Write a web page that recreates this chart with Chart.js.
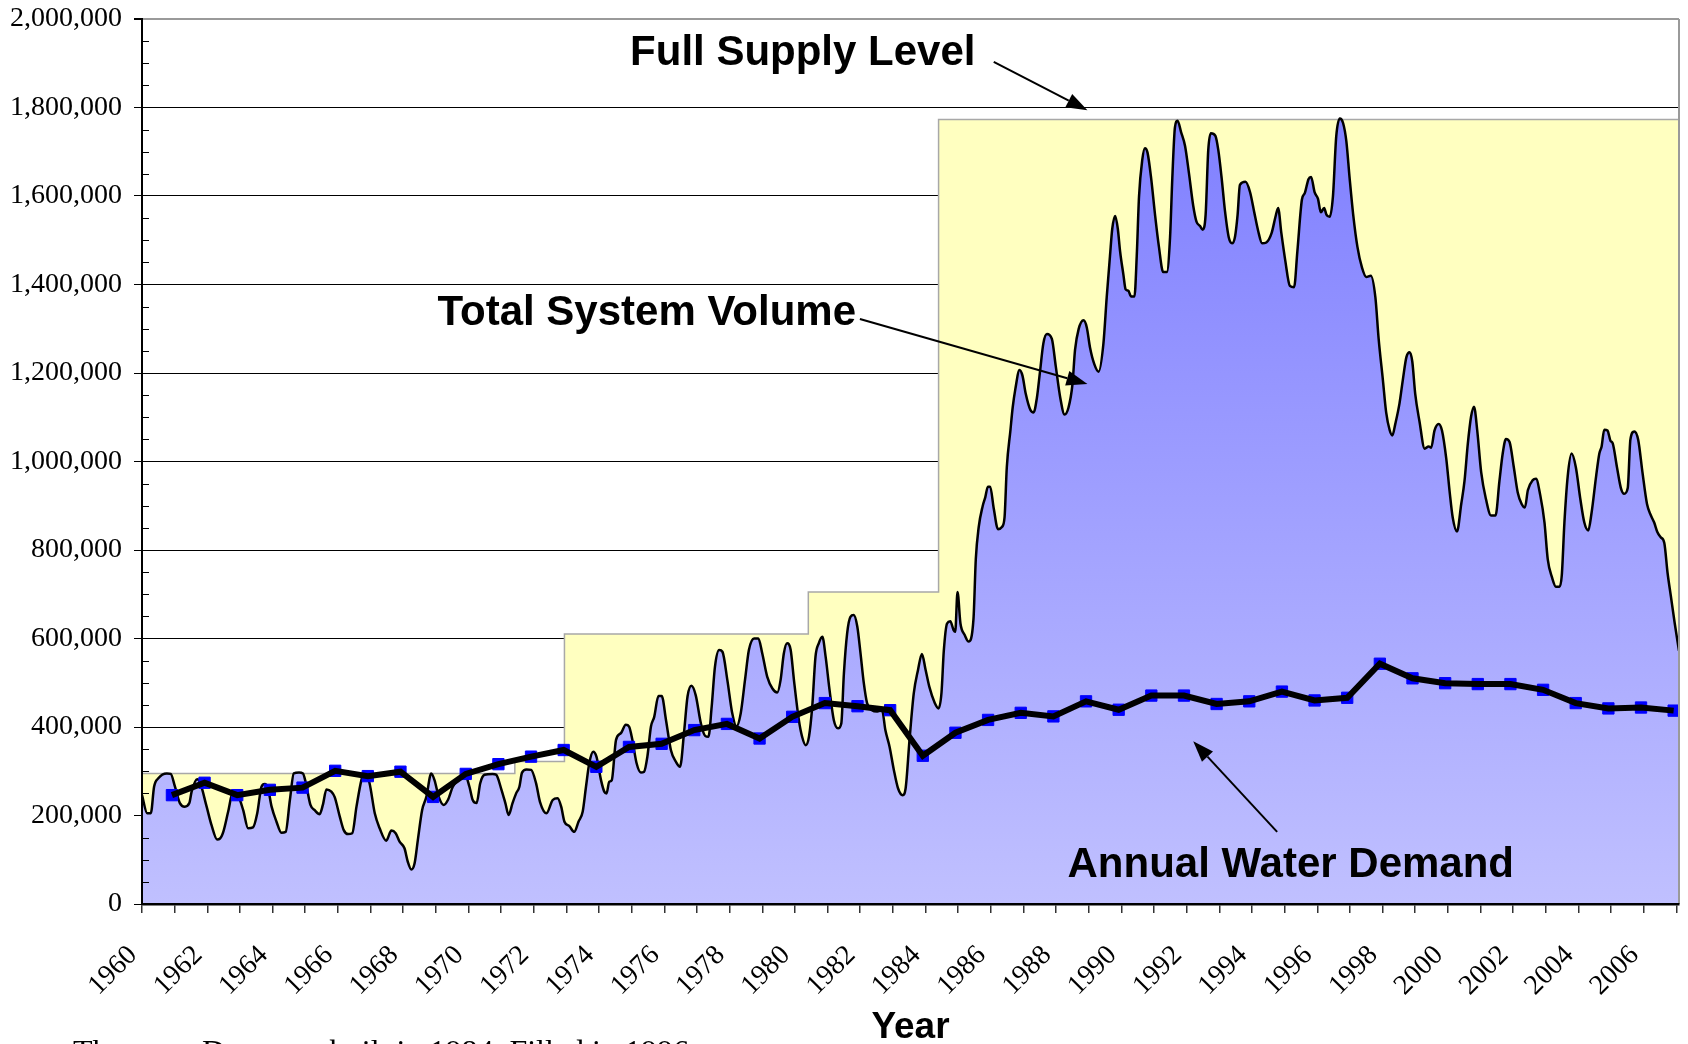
<!doctype html>
<html lang="en">
<head>
<meta charset="utf-8">
<title>Total System Volume and Annual Water Demand</title>
<script src="https://cdn.jsdelivr.net/npm/chart.js@4.4.1/dist/chart.umd.min.js"></script>
<style>
  html, body { margin: 0; padding: 0; background: #fff; overflow: hidden; }
  #wrap { position: relative; width: 1688px; height: 1044px; }
</style>
</head>
<body>
<div id="wrap"><canvas id="storageChart"></canvas></div>
<script>
// Full supply level: capacity steps (year the level starts, ML)
const fslYears  = [1960, 1971.42, 1972.94, 1980.41, 1984.40, 2007.08];
const fslLevels = [295000, 322000, 610000, 705000, 1773000, 1773000];

// Annual water demand (ML), one value per year
const demandYears = [1960, 1961, 1962, 1963, 1964, 1965, 1966, 1967, 1968, 1969,
  1970, 1971, 1972, 1973, 1974, 1975, 1976, 1977, 1978, 1979,
  1980, 1981, 1982, 1983, 1984, 1985, 1986, 1987, 1988, 1989,
  1990, 1991, 1992, 1993, 1994, 1995, 1996, 1997, 1998, 1999,
  2000, 2001, 2002, 2003, 2004, 2005, 2006];
const demandML = [246000, 274000, 246000, 258000, 263000, 301000, 289000, 299000, 242000, 294000,
  316000, 333000, 348000, 310000, 355000, 362000, 393000, 407000, 374000, 423000,
  454000, 447000, 438000, 335000, 387000, 416000, 432000, 424000, 458000, 439000,
  471000, 471000, 452000, 458000, 480000, 460000, 466000, 543000, 510000, 499000,
  497000, 497000, 484000, 454000, 442000, 444000, 437000];

// Total system volume (decimal year, thousand ML)
const tsvYears = [
  1960.00, 1960.16, 1960.27, 1960.37, 1960.50, 1960.76, 1960.88,
  1961.01, 1961.16, 1961.31, 1961.45, 1961.52, 1961.69, 1961.77, 1961.98,
  1962.13, 1962.30, 1962.39, 1962.49, 1962.64, 1962.79, 1962.94,
  1963.10, 1963.25, 1963.40, 1963.53, 1963.66, 1963.76, 1963.86, 1963.97,
  1964.12, 1964.27, 1964.40, 1964.53, 1964.65, 1964.81, 1964.93,
  1965.02, 1965.16, 1965.29, 1965.44, 1965.54, 1965.65, 1965.80, 1965.90,
  1966.06, 1966.18, 1966.31, 1966.44, 1966.57, 1966.72, 1966.82, 1966.97,
  1967.13, 1967.28, 1967.48, 1967.64, 1967.77, 1967.89,
  1968.04, 1968.14, 1968.25, 1968.35, 1968.45, 1968.58, 1968.71, 1968.86, 1968.96,
  1969.09, 1969.24, 1969.37, 1969.52, 1969.72, 1969.88,
  1970.03, 1970.13, 1970.25, 1970.36, 1970.49, 1970.74, 1970.85,
  1971.00, 1971.13, 1971.23, 1971.35, 1971.46, 1971.56, 1971.64, 1971.78, 1971.92,
  1972.07, 1972.19, 1972.39, 1972.58, 1972.73, 1972.84, 1972.94,
  1973.09, 1973.24, 1973.37, 1973.50, 1973.60, 1973.70, 1973.82, 1973.92,
  1974.06, 1974.16, 1974.23, 1974.31, 1974.39, 1974.52, 1974.67, 1974.82, 1974.92,
  1975.02, 1975.15, 1975.28, 1975.38, 1975.48, 1975.59, 1975.69, 1975.82, 1975.92,
  1976.05, 1976.20, 1976.35, 1976.48, 1976.61, 1976.71, 1976.83, 1976.96,
  1977.12, 1977.25, 1977.35, 1977.45, 1977.55, 1977.68, 1977.78, 1977.93,
  1978.08, 1978.21, 1978.34, 1978.47, 1978.59, 1978.75, 1978.88,
  1979.00, 1979.15, 1979.31, 1979.46, 1979.56, 1979.66, 1979.76, 1979.87, 1979.97,
  1980.12, 1980.22, 1980.33, 1980.43, 1980.53, 1980.63, 1980.73, 1980.84, 1980.94,
  1981.06, 1981.19, 1981.32, 1981.42, 1981.50, 1981.60, 1981.70, 1981.80, 1981.91,
  1982.01, 1982.11, 1982.21, 1982.36, 1982.52, 1982.67, 1982.77, 1982.90,
  1983.03, 1983.16, 1983.30, 1983.39, 1983.51, 1983.64, 1983.77, 1983.89,
  1984.00, 1984.12, 1984.28, 1984.40, 1984.49, 1984.56, 1984.66, 1984.76, 1984.86, 1984.91, 1984.98,
  1985.07, 1985.20, 1985.32, 1985.47, 1985.54, 1985.63, 1985.75, 1985.83, 1985.91, 1985.98,
  1986.09, 1986.22, 1986.34, 1986.42, 1986.49, 1986.60, 1986.67, 1986.75, 1986.88, 1986.97,
  1987.07, 1987.21, 1987.31, 1987.41, 1987.51, 1987.61, 1987.72, 1987.87, 1987.99,
  1988.13, 1988.26, 1988.38, 1988.50, 1988.58, 1988.69, 1988.84, 1988.94,
  1989.04, 1989.17, 1989.30, 1989.45, 1989.55, 1989.65, 1989.72, 1989.81, 1989.89, 1989.96,
  1990.06, 1990.13, 1990.21, 1990.30, 1990.40, 1990.47, 1990.54, 1990.64, 1990.72, 1990.80, 1990.91,
  1991.03, 1991.15, 1991.28, 1991.39, 1991.49, 1991.56, 1991.64, 1991.72, 1991.83, 1991.95,
  1992.07, 1992.20, 1992.30, 1992.41, 1992.49, 1992.58, 1992.66, 1992.74, 1992.88, 1992.97,
  1993.07, 1993.17, 1993.29, 1993.39, 1993.48, 1993.56, 1993.63, 1993.80, 1993.94,
  1994.07, 1994.19, 1994.31, 1994.44, 1994.60, 1994.72, 1994.80, 1994.90,
  1995.02, 1995.16, 1995.29, 1995.39, 1995.53, 1995.62, 1995.73, 1995.81, 1995.92,
  1996.02, 1996.11, 1996.21, 1996.28, 1996.38, 1996.48, 1996.58, 1996.69, 1996.79, 1996.89, 1996.99,
  1997.10, 1997.23, 1997.37, 1997.50, 1997.64, 1997.78, 1997.88,
  1998.01, 1998.11, 1998.22, 1998.30, 1998.39, 1998.52, 1998.62, 1998.73, 1998.83, 1998.91,
  1999.00, 1999.13, 1999.29, 1999.41, 1999.49, 1999.59, 1999.72, 1999.82, 1999.95,
  2000.05, 2000.15, 2000.28, 2000.41, 2000.51, 2000.61, 2000.71, 2000.80, 2000.90,
  2001.02, 2001.17, 2001.32, 2001.46, 2001.58, 2001.68, 2001.78, 2001.89,
  2002.02, 2002.14, 2002.26, 2002.36, 2002.45, 2002.60, 2002.70, 2002.83, 2002.96,
  2003.06, 2003.19, 2003.31, 2003.42, 2003.49, 2003.57, 2003.67, 2003.79, 2003.92,
  2004.06, 2004.18, 2004.30, 2004.40, 2004.54, 2004.64, 2004.71, 2004.79, 2004.89, 2004.98,
  2005.05, 2005.18, 2005.30, 2005.40, 2005.51, 2005.59, 2005.71, 2005.83, 2005.96,
  2006.10, 2006.22, 2006.32, 2006.42, 2006.52, 2006.63, 2006.73, 2006.83, 2006.95,
  2007.08
];
const tsvKiloML = [
  246, 205, 205, 265, 284, 295, 294,
  265, 228, 220, 228, 254, 282, 276, 220,
  178, 146, 148, 163, 209, 254, 246,
  212, 171, 173, 205, 265, 271, 261, 220,
  186, 161, 163, 235, 295, 297, 295,
  273, 224, 212, 203, 224, 259, 254, 242,
  197, 167, 158, 160, 220, 280, 299, 273,
  205, 171, 143, 166, 160, 141,
  126, 96, 78, 92, 145, 212, 242, 295, 280,
  242, 224, 235, 265, 284, 295,
  265, 235, 228, 273, 292, 294, 292,
  261, 228, 201, 228, 250, 265, 297, 304, 303,
  273, 231, 205, 235, 239, 220, 186,
  176, 163, 186, 209, 265, 318, 344, 333,
  280, 254, 250, 276, 280, 371, 386, 405, 401,
  371, 318, 297, 299, 333, 401, 423, 470, 470,
  416, 348, 322, 310, 393, 469, 493, 472,
  408, 380, 378, 446, 536, 574, 570, 506,
  431, 401, 431, 506, 574, 600, 600,
  566, 514, 487, 478, 506, 566, 589, 574, 506,
  416, 378, 359, 378, 446, 559, 589, 604, 559,
  484, 416, 397, 408, 521, 612, 649, 653, 627,
  566, 499, 454, 438, 435, 438, 393, 355,
  303, 261, 246, 261, 371, 476, 529, 565,
  530, 490, 455, 442, 478, 572, 634, 639, 619, 615, 705,
  634, 608, 593, 645, 779, 852, 899, 919, 943, 943,
  894, 847, 852, 873, 987, 1070, 1122, 1163, 1207, 1194,
  1153, 1117, 1111, 1143, 1205, 1267, 1288, 1277, 1215,
  1143, 1106, 1122, 1174, 1252, 1299, 1319, 1303,
  1257, 1220, 1203, 1267, 1371, 1464, 1526, 1555, 1526, 1475,
  1423, 1389, 1386, 1373, 1373, 1464, 1599, 1682, 1708, 1698, 1641,
  1558, 1485, 1428, 1428, 1506, 1641, 1755, 1770, 1744, 1713,
  1651, 1578, 1542, 1532, 1524, 1558, 1703, 1742, 1736, 1703,
  1641, 1568, 1506, 1493, 1508, 1558, 1625, 1632, 1609,
  1563, 1521, 1493, 1495, 1516, 1553, 1573, 1516,
  1454, 1397, 1394, 1475, 1592, 1607, 1638, 1643, 1608,
  1594, 1563, 1573, 1558, 1553, 1599, 1734, 1775, 1765, 1724, 1641,
  1558, 1485, 1438, 1417, 1420, 1371, 1277,
  1184, 1111, 1070, 1059, 1085, 1132, 1184, 1236, 1247, 1226,
  1153, 1091, 1029, 1034, 1031, 1070, 1085, 1070, 1007,
  935, 873, 842, 904, 956, 1039, 1101, 1124, 1070,
  976, 914, 878, 878, 956, 1018, 1051, 1044,
  987, 930, 904, 896, 935, 958, 961, 924, 862,
  779, 738, 717, 717, 743, 862, 966, 1018, 987,
  914, 862, 844, 883, 966, 1018, 1034, 1072, 1070, 1047,
  1041, 987, 940, 927, 940, 1049, 1068, 1049, 976,
  904, 878, 862, 840, 829, 816, 748, 696, 634,
  572
];

// annotation texts and where they sit (in data units)
const notes = [
  { text: 'Full Supply Level',   year: 1974.95, value: 1896000 },
  { text: 'Total System Volume', year: 1969.05, value: 1308000 },
  { text: 'Annual Water Demand', year: 1988.35, value: 61000 }
];
const pointers = [
  { from: [1986.09, 1903000], to: [1988.96, 1794000] },
  { from: [1981.99, 1322000], to: [1988.96, 1175000] },
  { from: [1994.77, 163000],  to: [1992.20, 368000] }
];
const footnote = 'Thomson Dam was built in 1984. Filled in 1996.';

const serif = '"Liberation Serif", "Times New Roman", serif';
const sans = '"Liberation Sans", Arial, sans-serif';

const fslPoints = fslYears.map((yr, i) => ({ x: yr, y: fslLevels[i] }));
const tsvPoints = tsvYears.map((yr, i) => ({ x: yr, y: tsvKiloML[i] * 1000 }));
// demand is plotted at the end of each year
const demandPoints = demandYears.map((yr, i) => ({ x: yr + 11 / 12, y: demandML[i] }));

function volumeFill(context) {
  const chart = context.chart;
  if (!chart.chartArea) return '#a0a0ff';
  const yScale = chart.scales.y;
  const g = chart.ctx.createLinearGradient(0, yScale.getPixelForValue(1780000), 0, yScale.getPixelForValue(0));
  g.addColorStop(0, '#8080ff');
  g.addColorStop(1, '#c0c0ff');
  return g;
}

function drawArrow(ctx, x1, y1, x2, y2) {
  const ang = Math.atan2(y2 - y1, x2 - x1);
  const len = 21, half = 7.5;
  const bx = x2 - len * Math.cos(ang), by = y2 - len * Math.sin(ang);
  ctx.beginPath();
  ctx.moveTo(x1, y1);
  ctx.lineTo(bx, by);
  ctx.stroke();
  ctx.beginPath();
  ctx.moveTo(x2, y2);
  ctx.lineTo(bx + half * Math.sin(ang), by - half * Math.cos(ang));
  ctx.lineTo(bx - half * Math.sin(ang), by + half * Math.cos(ang));
  ctx.closePath();
  ctx.fill();
}

const extras = {
  id: 'extras',
  afterDatasetsDraw(chart) {
    const { ctx, chartArea: area, scales: { x, y } } = chart;
    ctx.save();
    // short minor ticks inside the value axis
    ctx.strokeStyle = '#000';
    ctx.lineWidth = 1;
    for (let v = 50000; v < 2000000; v += 50000) {
      if (v % 200000 === 0) continue;
      const py = Math.round(y.getPixelForValue(v)) + 0.5;
      ctx.beginPath();
      ctx.moveTo(area.left, py);
      ctx.lineTo(area.left + 7, py);
      ctx.stroke();
    }
    // plot area border on the right
    ctx.strokeStyle = '#9a9a9a';
    ctx.lineWidth = 2;
    ctx.beginPath();
    ctx.moveTo(area.right, area.top);
    ctx.lineTo(area.right, area.bottom);
    ctx.stroke();

    ctx.fillStyle = '#000';
    ctx.strokeStyle = '#000';
    ctx.lineWidth = 2;
    pointers.forEach(p => {
      drawArrow(ctx, x.getPixelForValue(p.from[0]), y.getPixelForValue(p.from[1]),
        x.getPixelForValue(p.to[0]), y.getPixelForValue(p.to[1]));
    });
    ctx.font = 'bold 42px ' + sans;
    ctx.textAlign = 'left';
    ctx.textBaseline = 'alphabetic';
    notes.forEach(n => {
      ctx.fillText(n.text, x.getPixelForValue(n.year), y.getPixelForValue(n.value));
    });
    ctx.restore();
  },
  afterDraw(chart) {
    const ctx = chart.ctx;
    ctx.save();
    ctx.fillStyle = '#000';
    ctx.font = '32px ' + serif;
    ctx.textAlign = 'left';
    ctx.textBaseline = 'alphabetic';
    ctx.fillText(footnote, 73, 1062);
    ctx.restore();
  }
};

Chart.defaults.font.family = serif;
Chart.defaults.color = '#000';

new Chart(document.getElementById('storageChart'), {
  type: 'line',
  data: {
    datasets: [
      {
        label: 'Full Supply Level',
        data: fslPoints,
        stepped: true,
        fill: 'origin',
        backgroundColor: '#ffffc0',
        borderColor: '#a8a8a8',
        borderWidth: 1.5,
        pointRadius: 0,
        order: 4
      },
      {
        label: 'Total System Volume',
        data: tsvPoints,
        fill: 'origin',
        backgroundColor: volumeFill,
        borderColor: '#000',
        borderWidth: 2.5,
        cubicInterpolationMode: 'monotone',
        pointRadius: 0,
        order: 3
      },
      {
        label: 'Demand markers',
        data: demandPoints,
        showLine: false,
        pointStyle: 'rect',
        pointRadius: 8,
        pointBackgroundColor: '#0000ff',
        pointBorderColor: '#0000ff',
        pointBorderWidth: 1,
        order: 2
      },
      {
        label: 'Annual Water Demand',
        data: demandPoints,
        borderColor: '#000',
        borderWidth: 6,
        pointRadius: 0,
        fill: false,
        order: 1
      }
    ]
  },
  options: {
    responsive: true,
    maintainAspectRatio: false,
    animation: false,
    events: [],
    layout: { padding: { top: 19, right: 6, bottom: 0, left: 0 } },
    plugins: {
      legend: { display: false },
      tooltip: { enabled: false }
    },
    scales: {
      x: {
        type: 'linear',
        min: 1960,
        max: 2007.08,
        afterFit: scale => {
          scale.height = 140;
          scale.paddingLeft = 0;
          scale.paddingRight = 0;
        },
        border: { display: true, color: '#000', width: 2.5, z: 1 },
        grid: { display: true, drawOnChartArea: false, drawTicks: true, tickLength: 9, tickColor: '#333', lineWidth: 1.5 },
        ticks: {
          stepSize: 1,
          includeBounds: false,
          autoSkip: false,
          minRotation: 45,
          maxRotation: 45,
          padding: 26,
          labelOffset: -9,
          font: { family: serif, size: 28 },
          color: '#000',
          callback: v => (v % 2 === 0 ? String(v) : '')
        },
        title: {
          display: true,
          text: 'Year',
          font: { family: sans, size: 37, weight: 'bold' },
          color: '#000',
          padding: { top: 0, bottom: -6 }
        }
      },
      y: {
        min: 0,
        max: 2000000,
        afterFit: scale => {
          scale.width = 142;
          scale.paddingTop = 10;
        },
        border: { display: true, color: '#000', width: 2, z: 1 },
        grid: {
          color: c => (c.tick && c.tick.value === 2000000 ? '#9a9a9a' : '#000'),
          lineWidth: c => (c.tick && c.tick.value === 2000000 ? 2 : 1),
          tickColor: '#000',
          tickLength: 8
        },
        ticks: {
          stepSize: 200000,
          padding: 12,
          font: { family: serif, size: 28 },
          color: '#000',
          callback: v => Number(v).toLocaleString('en-US')
        }
      }
    }
  },
  plugins: [extras]
});
</script>
</body>
</html>
